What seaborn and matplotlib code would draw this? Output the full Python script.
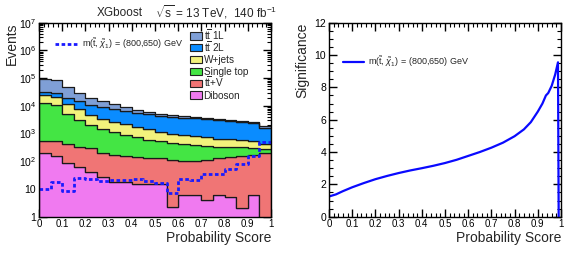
import numpy as np
import pandas as pd
import matplotlib
matplotlib.use("Agg")
import matplotlib.pyplot as plt
import seaborn as sns
from matplotlib.patches import Rectangle
from matplotlib.lines import Line2D
from matplotlib.ticker import MultipleLocator, LogLocator, FuncFormatter, NullFormatter

# ---------------- data ----------------
bin_edges = [round(0.05 * i, 2) for i in range(21)]
processes = ["tt1L", "tt2L", "W+jets", "Single top", "ttV", "Diboson"]
labels = [r"t$\overline{\mathrm{t}}$ 1L", r"t$\overline{\mathrm{t}}$ 2L", "W+jets", "Single top",
          r"t$\overline{\mathrm{t}}$+V", "Diboson"]
tt1L = [59000, 54000, 26600, 14800, 8800, 6100, 4000, 2700, 1650, 1000,
        650, 550, 400, 280, 240, 230, 230, 220, 210, 230]
tt2L = [7000, 9000, 7400, 7200, 5900, 5450, 4870, 4220, 3910, 3560,
        3310, 3050, 2860, 2760, 2560, 2420, 2310, 2130, 1880, 1200]
wjets = [12000, 10500, 6800, 4500, 2600, 2030, 1480, 1270, 990, 870,
         620, 530, 450, 410, 375, 325, 285, 250, 235, 165]
stop = [12460, 9960, 4770, 2660, 1710, 1225, 980, 750, 603, 440,
        394, 358, 315, 285, 253, 207, 196, 165, 125, 75]
ttv = [345, 380, 345, 276, 250, 169, 152, 142, 132, 115,
       111, 110, 99, 99, 108, 122, 134, 153, 164, 195]
diboson = [195, 160, 85, 64, 40, 26, 18, 18, 15, 15,
           15, 2.2, 6, 6, 4, 6, 5, 2, 6, 0]
signal = [9.8, 17.5, 8.7, 24, 22.4, 20, 21, 21, 23.6, 20,
          17, 7.4, 22, 21, 35, 35, 51, 78, 155, 510]

sig_x = [0.0, 0.03, 0.06, 0.10, 0.15, 0.20, 0.25, 0.30, 0.35, 0.40, 0.45, 0.50,
         0.55, 0.60, 0.65, 0.70, 0.75, 0.80, 0.84, 0.87, 0.90, 0.92, 0.935,
         0.945, 0.96, 0.975, 0.987, 0.99]
sig_y = [1.25, 1.38, 1.58, 1.82, 2.08, 2.32, 2.52, 2.70, 2.86, 3.00, 3.15, 3.32,
         3.52, 3.76, 4.00, 4.27, 4.58, 4.98, 5.40, 5.85, 6.50, 7.00, 7.50,
         7.65, 8.10, 8.80, 9.55, 0.0]

colors = ["#7f9fd6", "#0a8cff", "#f2f27c", "#44e544", "#f07575", "#f07af0"]
signal_label = r"m($\mathrm{\tilde{t}}$, $\tilde{\chi}_{1}$) = (800,650) GeV"
tick_color = "black"

# ---------------- style ----------------
sns.set_theme(style="ticks")
plt.rcParams["font.family"] = ["Liberation Sans", "DejaVu Sans"]
plt.rcParams["mathtext.fontset"] = "custom"
plt.rcParams["mathtext.rm"] = "Liberation Sans"
plt.rcParams["mathtext.it"] = "Liberation Sans:italic"
plt.rcParams["mathtext.bf"] = "Liberation Sans:bold"

W, H = 581, 254
fig = plt.figure(figsize=(W / 100, H / 100), dpi=100)
ax1 = fig.add_axes([39 / W, 1 - 216.7 / H, 232 / W, 194 / H])
ax2 = fig.add_axes([329 / W, 1 - 216.7 / H, 232 / W, 194 / H])

edges_arr = np.array(bin_edges)
centers = 0.5 * (edges_arr[:-1] + edges_arr[1:])
series = [tt1L, tt2L, wjets, stop, ttv, diboson]
df = pd.DataFrame({
    "score": np.tile(centers, len(processes)),
    "events": np.concatenate([np.asarray(s, float) for s in series]),
    "process": np.repeat(processes, len(centers)),
})

sns.histplot(data=df, x="score", weights="events", hue="process", hue_order=processes,
             bins=bin_edges, multiple="stack", element="step", fill=True,
             palette=colors, alpha=1, edgecolor="#1a1a1a", linewidth=0.9,
             legend=False, ax=ax1)

sig_df = pd.DataFrame({"score": centers, "events": signal})
sns.histplot(data=sig_df, x="score", weights="events", bins=bin_edges,
             element="step", fill=False, color="#1a1aff", linewidth=2.0,
             linestyle=(0, (1.3, 0.9)), legend=False, ax=ax1)

ax1.set_yscale("log")
ax1.set_xlim(0, 1)
ax1.set_ylim(1, 1e7)

sns.lineplot(x=sig_x, y=sig_y, color="#0a0aff", linewidth=1.6, estimator=None,
             sort=False, ax=ax2)
ax2.set_xlim(0, 1)
ax2.set_ylim(0, 12)

# ---------------- axes styling ----------------
def yfmt(v, pos):
    if v <= 0:
        return ""
    e = int(round(np.log10(v)))
    if e == 0:
        return "1"
    if e == 1:
        return "10"
    return r"$\mathregular{10^{%d}}$" % e

for ax in (ax1, ax2):
    for s in ax.spines.values():
        s.set_linewidth(1.0)
        s.set_color("black")
    ax.xaxis.set_major_locator(MultipleLocator(0.1))
    ax.xaxis.set_minor_locator(MultipleLocator(0.02))
    ax.xaxis.set_major_formatter(FuncFormatter(lambda v, p: "%g" % round(v, 2)))
    ax.set_xlabel("Probability Score", loc="right", fontsize=10)
    ax.xaxis.set_label_coords(1.0, -0.075)
    ax.grid(False)

ax1.yaxis.set_major_locator(LogLocator(base=10, numticks=10))
ax1.yaxis.set_minor_locator(LogLocator(base=10, subs=np.arange(2, 10), numticks=20))
ax1.yaxis.set_major_formatter(FuncFormatter(yfmt))
ax1.yaxis.set_minor_formatter(NullFormatter())
ax1.set_ylabel("Events", loc="top", fontsize=10)
ax1.yaxis.set_label_coords(-0.085, 1.0)

ax2.yaxis.set_major_locator(MultipleLocator(2))
ax2.yaxis.set_minor_locator(MultipleLocator(0.5))
ax2.set_ylabel("Significance", loc="top", fontsize=10)
ax2.yaxis.set_label_coords(-0.085, 1.0)

for ax in (ax1, ax2):
    ax.tick_params(axis="both", which="both", direction="in", top=True, right=True,
                   color=tick_color, labelcolor="black")
    ax.tick_params(axis="both", which="major", length=5.5, width=1.0, pad=2)
    ax.tick_params(axis="both", which="minor", length=2.8, width=0.8)
    ax.tick_params(axis="x", labelsize=7)
    ax.tick_params(axis="y", labelsize=7.5)

# ---------------- legends ----------------
row0, pitch = 36.0, 11.8
for i, (c, lab) in enumerate(zip(colors, labels)):
    yc = row0 + pitch * i
    fig.add_artist(Rectangle((189.5 / W, 1 - (yc + 3.6) / H), 12 / W, 7.2 / H,
                             transform=fig.transFigure, facecolor=c,
                             edgecolor="#222222", linewidth=0.8))
    fig.text(203.5 / W, 1 - (yc + 3.6) / H, lab, fontsize=7.2,
             ha="left", va="baseline")

sig_handle = Line2D([], [], color="#1a1aff", linewidth=2.0, linestyle=(0, (1.3, 0.9)))
ax1.legend([sig_handle], [signal_label], loc="center left",
           bbox_to_anchor=(55 / W, 1 - 43.5 / H), bbox_transform=fig.transFigure,
           frameon=False, fontsize=6.5, handlelength=2.5, handletextpad=0.5,
           borderpad=0, borderaxespad=0)

line_handle = Line2D([], [], color="#0a0aff", linewidth=1.6)
ax2.legend([line_handle], [signal_label], loc="center left",
           bbox_to_anchor=(343 / W, 1 - 62 / H), bbox_transform=fig.transFigure,
           frameon=False, fontsize=6.5, handlelength=2.3, handletextpad=0.45,
           borderpad=0, borderaxespad=0)

# ---------------- title ----------------
fig.text(97 / W, 1 - 12.5 / H, "XGboost", fontsize=8.5, ha="left", va="center")
fig.text(155 / W, 1 - 12.5 / H, r"$\sqrt{\mathrm{s}}$ = 13 TeV,  140 fb$^{\mathregular{-1}}$",
         fontsize=8.5, ha="left", va="center")

fig.savefig("out.png", dpi=100, facecolor="white")
